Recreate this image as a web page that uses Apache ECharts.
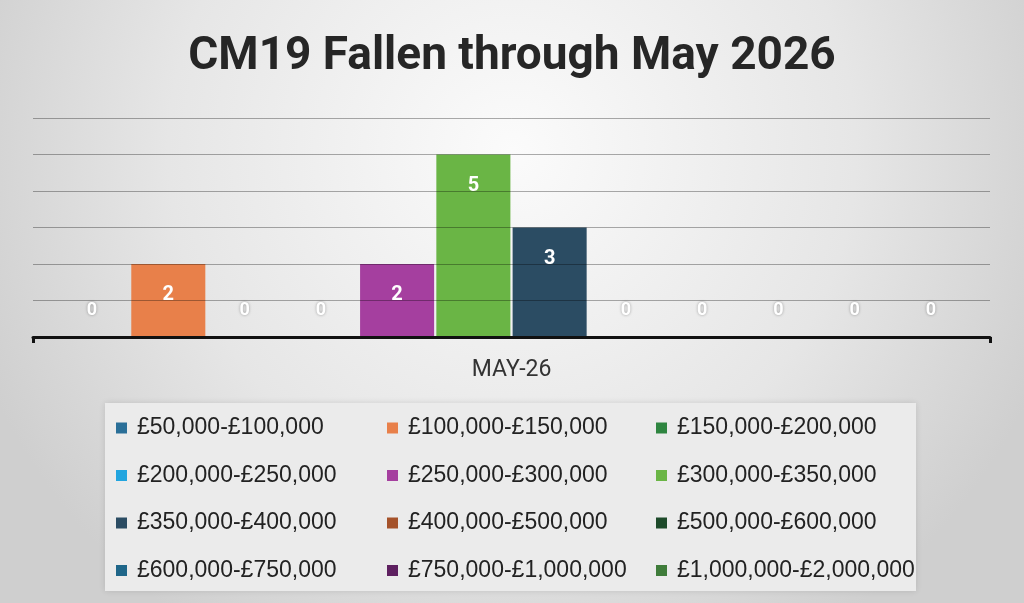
<!DOCTYPE html>
<html>
<head>
<meta charset="utf-8">
<script src="https://cdn.jsdelivr.net/npm/echarts@6/dist/echarts.min.js"></script>
<style>
html,body{margin:0;padding:0;width:1024px;height:603px;overflow:hidden;}
#chart{width:1024px;height:603px;}
</style>
</head>
<body>
<div id="chart"></div>
<script>
const titleText = 'CM19 Fallen through May 2026';
const categories = ['MAY-26'];
const seriesNames = [
  '£50,000-£100,000', '£100,000-£150,000', '£150,000-£200,000',
  '£200,000-£250,000', '£250,000-£300,000', '£300,000-£350,000',
  '£350,000-£400,000', '£400,000-£500,000', '£500,000-£600,000',
  '£600,000-£750,000', '£750,000-£1,000,000', '£1,000,000-£2,000,000'
];
const seriesValues = [0, 2, 0, 0, 2, 5, 3, 0, 0, 0, 0, 0];
const seriesColors = [
  '#2a6f98', '#e8804a', '#2e8540',
  '#22a5df', '#a53f9f', '#6ab545',
  '#2b4c63', '#a5522a', '#1d4a2a',
  '#1f6689', '#5e2060', '#3f7c3a'
];
const yMin = 0, yMax = 6, yInterval = 1;

const chart = echarts.init(document.getElementById('chart'));

const series = seriesNames.map((name, i) => {
  const v = seriesValues[i];
  return {
    name: name,
    type: 'bar',
    z: 2,
    barGap: '3%',
    barCategoryGap: '4.6%',
    itemStyle: { color: seriesColors[i] },
    data: [{
      value: v,
      label: v > 0
        ? { show: true, position: 'insideTop', distance: 21, color: '#fff', fontSize: 20, fontWeight: 'bold', fontFamily: 'Roboto' }
        : { show: true, position: 'top', distance: 18, color: '#fff', fontSize: 18, fontWeight: 'bold', fontFamily: 'Roboto',
            textShadowColor: 'rgba(0,0,0,0.35)', textShadowBlur: 3 }
    }]
  };
});

function legendCol(idx, left) {
  return {
    orient: 'vertical',
    left: left,
    top: 416,
    padding: 0,
    itemWidth: 11,
    itemHeight: 11,
    itemGap: 23.5,
    icon: 'rect',
    data: idx.map(i => seriesNames[i]),
    textStyle: { fontFamily: 'Liberation Sans', fontSize: 23, color: '#222', lineHeight: 24, padding: [0, 0, 0, 5] }
  };
}

chart.setOption({
  backgroundColor: {
    type: 'radial', x: 0.5, y: 0.25, r: 0.95,
    colorStops: [
      { offset: 0, color: '#fbfbfb' },
      { offset: 0.6, color: '#e6e6e6' },
      { offset: 1, color: '#cfcfcf' }
    ]
  },
  animation: false,
  title: {
    text: titleText,
    left: 'center',
    top: 29,
    textStyle: { fontFamily: 'Roboto', fontWeight: 'bold', fontSize: 46, color: '#262626' }
  },
  graphic: [{
    type: 'rect',
    z: -1,
    shape: { x: 105, y: 403, width: 811, height: 188 },
    style: { fill: '#ebebeb', shadowBlur: 6, shadowColor: 'rgba(0,0,0,0.12)' }
  }],
  legend: [
    legendCol([0, 3, 6, 9], 116),
    legendCol([1, 4, 7, 10], 387),
    legendCol([2, 5, 8, 11], 656)
  ],
  grid: { left: 33, right: 34, top: 118, bottom: 266 },
  xAxis: {
    type: 'category',
    data: categories,
    z: 5,
    axisLine: { lineStyle: { color: '#111', width: 3 } },
    axisTick: { show: true, length: 6, lineStyle: { color: '#111', width: 3 } },
    axisLabel: { color: '#333', fontSize: 23, fontFamily: 'Roboto', margin: 22 }
  },
  yAxis: {
    type: 'value',
    min: yMin, max: yMax, interval: yInterval,
    z: 3,
    axisLine: { show: false },
    axisTick: { show: false },
    axisLabel: { show: false },
    splitLine: { lineStyle: { color: 'rgba(0,0,0,0.32)', width: 1 } }
  },
  series: series
});
</script>
</body>
</html>
